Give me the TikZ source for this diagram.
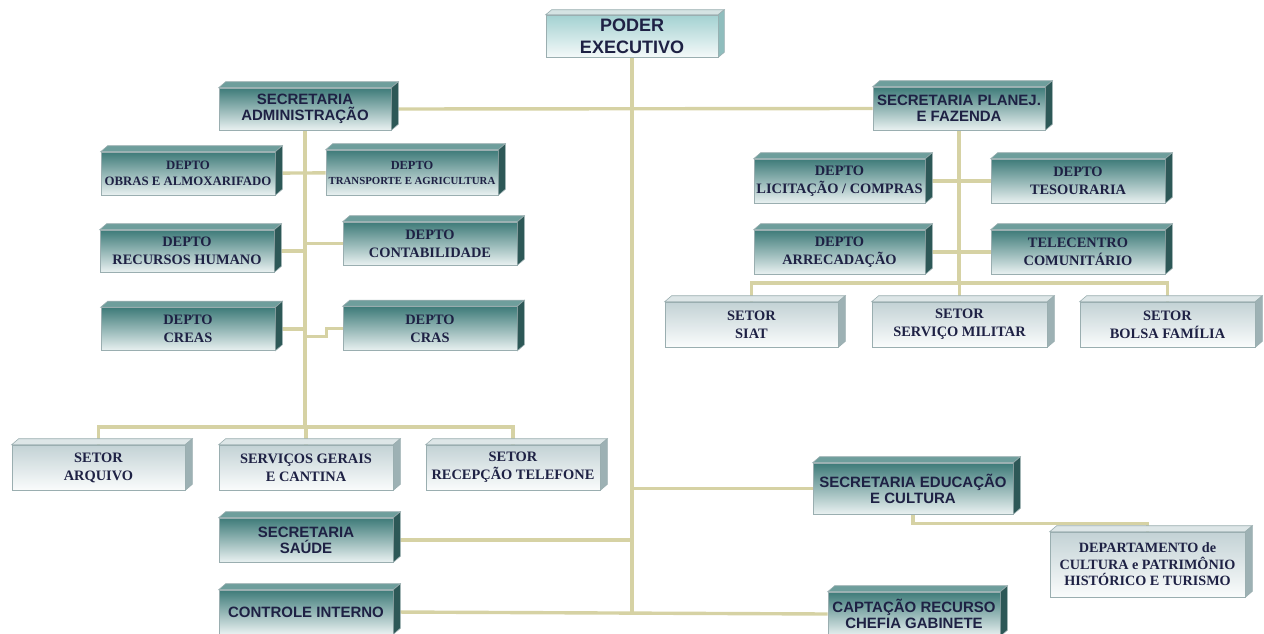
\documentclass[tikz,border=0pt]{standalone}
\usepackage{fontspec}
\setmainfont{Liberation Serif}
\newfontfamily\arial{Liberation Sans}
\usepackage{tikz}
\usetikzlibrary{backgrounds}

\definecolor{linhacor}{HTML}{D6D2A4}
\definecolor{bordacor}{HTML}{9AAEB0}
\definecolor{textocor}{HTML}{1E2144}
\definecolor{escA}{HTML}{3E7B79}
\definecolor{escB}{HTML}{E9F1F1}
\definecolor{escTopo}{HTML}{6E9E9C}
\definecolor{escLado}{HTML}{2D5857}
\definecolor{claroA}{HTML}{C3D2D5}
\definecolor{claroB}{HTML}{FAFCFC}
\definecolor{claroTopo}{HTML}{DDE6E7}
\definecolor{claroLado}{HTML}{9DB1B4}
\definecolor{poderA}{HTML}{A3D1D1}
\definecolor{poderB}{HTML}{F4F9F9}
\definecolor{poderTopo}{HTML}{D5E3E3}
\definecolor{poderLado}{HTML}{8FBDBD}

\begin{document}
\begin{tikzpicture}[x=0.5pt, y=-0.5pt,
    linha/.style={draw=linhacor, line width=1.7pt},
    caixa/.style={rectangle, draw=bordacor, line width=0.3pt, inner sep=0pt, align=center, text=textocor, minimum width=86.5pt, minimum height=22pt},
    escura/.style={caixa, top color=escA, bottom color=escB},
    clara/.style={caixa, top color=claroA, bottom color=claroB},
    serifa/.style={font=\bfseries\fontsize{7.2}{9}\selectfont},
    sans/.style={font=\arial\bfseries\fontsize{7.5}{8}\selectfont}]
    \useasboundingbox (0,0) rectangle (1264,633);

    \node (poder)[caixa, top color=poderA, bottom color=poderB, minimum width=86pt, minimum height=21pt, font=\arial\bfseries\fontsize{9}{11}\selectfont] at (632,36) {PODER\\EXECUTIVO};

    \node (secadm)[escura, sans, minimum width=86pt, minimum height=21pt] at (305,109) {SECRETARIA\\ADMINISTRAÇÃO};
    \node (secplan)[escura, sans, minimum width=86pt, minimum height=21.5pt] at (959,108.5) {SECRETARIA PLANEJ.\\E FAZENDA};

    \node (obras)[escura, font=\bfseries\fontsize{6.4}{8}\selectfont, minimum width=87pt, minimum height=21.5pt] at (188,173.5) {DEPTO\\OBRAS E ALMOXARIFADO};
    \node (transp)[escura, font=\bfseries\fontsize{6.2}{7.5}\selectfont, minimum width=86pt, minimum height=22.5pt] at (412,172.5) {DEPTO\\{\fontsize{5.4}{7.5}\selectfont TRANSPORTE E AGRICULTURA}};
    \node (rh)[escura, serifa, minimum width=87pt, minimum height=21pt] at (187,251) {DEPTO\\RECURSOS HUMANO};
    \node (contab)[escura, serifa, minimum width=87pt, minimum height=21.5pt] at (430,243.5) {DEPTO\\CONTABILIDADE};
    \node (creas)[escura, serifa, minimum width=87pt, minimum height=21.5pt] at (188,329) {DEPTO\\CREAS};
    \node (cras)[escura, serifa, minimum width=87pt] at (430,328.5) {DEPTO\\CRAS};

    \node (arquivo)[clara, serifa, minimum height=22.5pt] at (98.5,467.5) {SETOR\\ARQUIVO};
    \node (servgerais)[clara, serifa, minimum width=87pt, minimum height=22.5pt] at (306,467.5) {SERVIÇOS GERAIS\\E CANTINA};
    \node (recepcao)[clara, serifa, minimum width=87pt, minimum height=22.5pt] at (513,467.5) {SETOR\\RECEPÇÃO TELEFONE};

    \node (licit)[escura, serifa, minimum width=85.5pt] at (839.5,181) {DEPTO\\LICITAÇÃO / COMPRAS};
    \node (tesour)[escura, serifa, minimum width=87pt] at (1078,181) {DEPTO\\TESOURARIA};
    \node (arrec)[escura, serifa, minimum width=85.5pt] at (839.5,252) {DEPTO\\ARRECADAÇÃO};
    \node (telec)[escura, serifa, minimum width=87pt] at (1078,252) {TELECENTRO\\COMUNITÁRIO};

    \node (siat)[clara, serifa, minimum height=22.5pt] at (751.5,324.5) {SETOR\\SIAT};
    \node (servmil)[clara, serifa, minimum width=87.5pt, minimum height=22.5pt] at (959.5,324.5) {SETOR\\SERVIÇO MILITAR};
    \node (bolsa)[clara, serifa, minimum width=87.5pt, minimum height=22.5pt] at (1167.5,324.5) {SETOR\\BOLSA FAMÍLIA};

    \node (seceduc)[escura, sans, minimum width=100pt, minimum height=25.5pt] at (913,488.5) {SECRETARIA EDUCAÇÃO\\E CULTURA};
    \node (cultura)[clara, font=\bfseries\fontsize{7.1}{8.2}\selectfont, minimum width=97.5pt, minimum height=32.5pt] at (1147.5,564.5) {DEPARTAMENTO de\\CULTURA e PATRIMÔNIO\\HISTÓRICO E TURISMO};
    \node (secsaude)[escura, sans, minimum width=87pt] at (306,540) {SECRETARIA\\SAÚDE};
    \node (controle)[escura, sans, minimum width=87pt] at (306,612) {CONTROLE INTERNO};
    \node (captacao)[escura, sans, minimum width=86pt] at (914,614) {CAPTAÇÃO RECURSO\\CHEFIA GABINETE};

    \foreach \n in {secadm,secplan,obras,transp,rh,contab,creas,cras,licit,tesour,arrec,telec,seceduc,secsaude,controle,captacao} {
      \filldraw[fill=escTopo, draw=bordacor, line width=0.3pt] (\n.north west) -- ++(7,-6) -- ([shift={(7,-6)}]\n.north east) -- (\n.north east) -- cycle;
      \filldraw[fill=escLado, draw=bordacor, line width=0.3pt] (\n.north east) -- ++(7,-6) -- ([shift={(7,-6)}]\n.south east) -- (\n.south east) -- cycle;
    }
    \foreach \n in {arquivo,servgerais,recepcao,siat,servmil,bolsa,cultura} {
      \filldraw[fill=claroTopo, draw=bordacor, line width=0.3pt] (\n.north west) -- ++(7,-6) -- ([shift={(7,-6)}]\n.north east) -- (\n.north east) -- cycle;
      \filldraw[fill=claroLado, draw=bordacor, line width=0.3pt] (\n.north east) -- ++(7,-6) -- ([shift={(7,-6)}]\n.south east) -- (\n.south east) -- cycle;
    }
    \filldraw[fill=poderTopo, draw=bordacor, line width=0.3pt] (poder.north west) -- ++(6,-5) -- ([shift={(6,-5)}]poder.north east) -- (poder.north east) -- cycle;
    \filldraw[fill=poderLado, draw=bordacor, line width=0.3pt] (poder.north east) -- ++(6,-5) -- ([shift={(6,-5)}]poder.south east) -- (poder.south east) -- cycle;

    \coordinate (admbar) at (305,427);
    \coordinate (planbar) at (959,283);

    \begin{scope}[on background layer]
      \draw[linha] (secadm.east) -- (secplan.west);
      \draw[linha] (poder.south) -- (poder.south |- controle.east);
      \draw[linha] (controle.east) -- (captacao.west);
      \draw[linha] (secsaude.east) -| (poder.south);
      \draw[linha] (seceduc.west) -| (poder.south);
      \draw[linha] (seceduc.south) -- ++(0,9) -| (cultura.north);

      \draw[linha] (secadm.south) -- (admbar);
      \draw[linha] (obras) -- (transp);
      \draw[linha] (rh.east) -- (rh.east -| secadm.south);
      \draw[linha] (contab.west) -- (contab.west -| secadm.south);
      \draw[linha] (creas.east) -- (creas.east -| secadm.south);
      \draw[linha] (cras.west) -- ++(-16,0) |- ([yshift=-4pt]cras.west -| secadm.south);
      \draw[linha] (arquivo.north) |- (admbar) -| (recepcao.north);
      \draw[linha] (servgerais.north) -- (servgerais.north |- admbar);

      \draw[linha] (secplan.south) -- (planbar);
      \draw[linha] (licit) -- (tesour);
      \draw[linha] (arrec) -- (telec);
      \draw[linha] (siat.north) |- (planbar) -| (bolsa.north);
      \draw[linha] (servmil.north) -- (servmil.north |- planbar);
    \end{scope}
\end{tikzpicture}
\end{document}
